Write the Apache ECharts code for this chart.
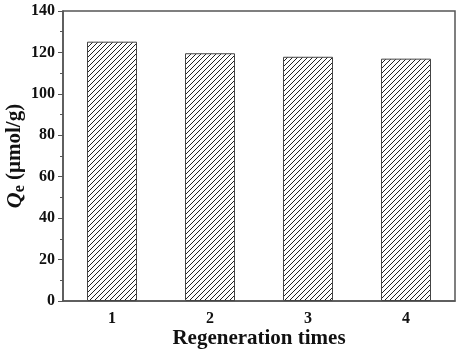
<!DOCTYPE html>
<html>
<head>
<meta charset="utf-8">
<script src="https://cdn.jsdelivr.net/npm/echarts@6/dist/echarts.min.js"></script>
<style>
  html, body { margin: 0; padding: 0; background: #fff; }
  #chart { width: 459px; height: 353px; }
</style>
</head>
<body>
<div id="chart"></div>
<script>
var categories = ['1', '2', '3', '4'];
var qeValues = [125.2, 119.6, 117.9, 117.0];
var yTicks = [0, 20, 40, 60, 80, 100, 120, 140];

// hatch pattern for the bars
var makeHatch = function() {
	var c = document.createElement('canvas');
	c.width = 5;
	c.height = 5;
	var ctx = c.getContext('2d');
	ctx.fillStyle = '#fff';
	ctx.fillRect(0, 0, 5, 5);
	ctx.strokeStyle = '#222';
	ctx.lineWidth = 1;
	ctx.beginPath();
	ctx.moveTo(-1, 6); ctx.lineTo(6, -1);
	ctx.moveTo(-1, 1); ctx.lineTo(1, -1);
	ctx.moveTo(4, 6); ctx.lineTo(6, 4);
	ctx.stroke();
	return c;
};

var font = '"Liberation Serif", "Times New Roman", serif';
var myChart = echarts.init(document.getElementById('chart'));

var option = {
	animation: false,
	grid: {
		left: 63, right: 4, top: 11, bottom: 52,
		containLabel: false,
		outerBoundsMode: 'none',
		show: true,
		borderColor: '#555',
		borderWidth: 1.5
	},
	xAxis: {
		type: 'category',
		data: categories,
		name: 'Regeneration times',
		nameLocation: 'middle',
		nameMoveOverlap: false,
		nameGap: 27,
		nameTextStyle: { fontFamily: font, fontWeight: 'bold', fontSize: 21, color: '#111' },
		axisLine: { lineStyle: { color: '#555', width: 1.5 } },
		axisTick: { show: false },
		axisLabel: { fontFamily: font, fontWeight: 'bold', fontSize: 16, color: '#111', margin: 10 }
	},
	yAxis: {
		type: 'value',
		min: 0,
		max: yTicks[yTicks.length - 1],
		interval: 20,
		name: '{q|Q}{e|e}{u| (μmol/g)}',
		nameLocation: 'middle',
		nameMoveOverlap: false,
		nameRotate: 90,
		nameGap: 35,
		nameTextStyle: {
			rich: {
				q: { fontFamily: font, fontStyle: 'italic', fontWeight: 'bold', fontSize: 22, color: '#111' },
				e: { fontFamily: font, fontWeight: 'bold', fontSize: 16, color: '#111', verticalAlign: 'bottom', padding: [10, 0, 0, 0] },
				u: { fontFamily: font, fontWeight: 'bold', fontSize: 21, color: '#111' }
			}
		},
		axisLine: { show: true, lineStyle: { color: '#555', width: 1.5 } },
		axisTick: { show: true, inside: false, length: 5, lineStyle: { color: '#555' } },
		minorTick: { show: true, splitNumber: 2, length: 3, lineStyle: { color: '#555' } },
		splitLine: { show: false },
		axisLabel: { fontFamily: font, fontWeight: 'bold', fontSize: 16, color: '#111', margin: 8 }
	},
	series: [{
		type: 'bar',
		data: qeValues,
		barWidth: 50,
		itemStyle: {
			color: { image: makeHatch(), repeat: 'repeat' },
			borderColor: '#444',
			borderWidth: 1
		}
	}]
};
myChart.setOption(option);
</script>
</body>
</html>
